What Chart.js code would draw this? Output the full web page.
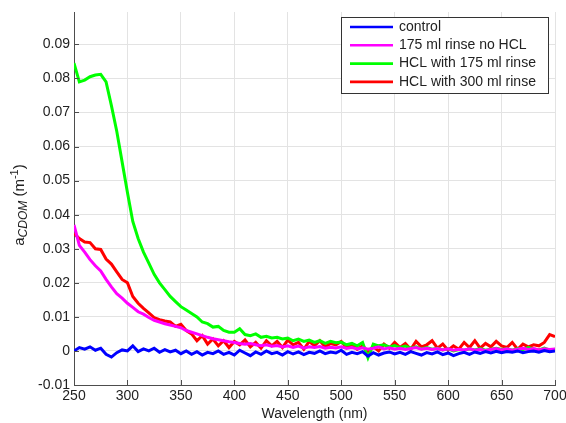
<!DOCTYPE html>
<html>
<head>
<meta charset="utf-8">
<script src="https://cdn.jsdelivr.net/npm/chart.js@4"></script>
<style>
  html, body { margin: 0; padding: 0; background: #fff; }
  #wrap { width: 566px; height: 423px; }
</style>
</head>
<body>
<div id="wrap"><canvas id="cdomChart" width="566" height="423"></canvas></div>
<script>
// longitudes de onda (nm), cada 5 nm
const wavelengths = [];
for (let w = 250; w <= 700; w += 5) wavelengths.push(w);

const yTicks = [-0.01, 0, 0.01, 0.02, 0.03, 0.04, 0.05, 0.06, 0.07, 0.08, 0.09];
const xTicks = [250, 300, 350, 400, 450, 500, 550, 600, 650, 700];
const labels = ['control', '175 ml rinse no HCL', 'HCL with 175 ml rinse', 'HCL with 300 ml rinse'];

const control = [
  0.0000, 0.0010, 0.0005, 0.0012, 0.0002, 0.0008, -0.0010, -0.0018, -0.0005, 0.0003,
  0.0000, 0.0015, -0.0002, 0.0006, 0.0000, 0.0008, -0.0004, 0.0004, -0.0003, 0.0002,
  -0.0008, 0.0000, -0.0010, -0.0002, -0.0012, -0.0004, -0.0008, 0.0000, -0.0010, -0.0004,
  -0.0012, 0.0002, -0.0006, -0.0014, -0.0003, -0.0010, 0.0000, -0.0008, -0.0004, -0.0012,
  -0.0002, -0.0009, -0.0003, -0.0011, -0.0004, -0.0007, 0.0000, -0.0008, -0.0003, -0.0006,
  0.0002, -0.0010, -0.0004, -0.0008, -0.0002, -0.0015, -0.0005, -0.0012, -0.0006, -0.0003,
  -0.0009, -0.0004, -0.0010, -0.0002, -0.0007, -0.0012, -0.0005, -0.0009, -0.0003, -0.0011,
  -0.0006, -0.0014, -0.0008, -0.0004, -0.0010, -0.0003, -0.0007, -0.0002, -0.0006, -0.0001,
  -0.0005, -0.0002, -0.0004, 0.0000, -0.0005, -0.0002, 0.0000, -0.0004, 0.0001, -0.0002,
  0.0000
];

const rinseNoHcl = [
  0.0370, 0.0310, 0.0290, 0.0268, 0.0250, 0.0235, 0.0210, 0.0188, 0.0168, 0.0155,
  0.0140, 0.0128, 0.0115, 0.0108, 0.0098, 0.0090, 0.0085, 0.0080, 0.0076, 0.0072,
  0.0068, 0.0060, 0.0055, 0.0050, 0.0045, 0.0040, 0.0036, 0.0033, 0.0030, 0.0027,
  0.0025, 0.0022, 0.0020, 0.0022, 0.0018, 0.0015, 0.0018, 0.0014, 0.0016, 0.0012,
  0.0015, 0.0010, 0.0014, 0.0008, 0.0012, 0.0010, 0.0013, 0.0008, 0.0011, 0.0009,
  0.0012, 0.0007, 0.0010, 0.0006, 0.0009, 0.0005, 0.0008, 0.0012, 0.0006, 0.0009,
  0.0005, 0.0008, 0.0004, 0.0007, 0.0010, 0.0005, 0.0008, 0.0004, 0.0007, 0.0003,
  0.0006, 0.0002, 0.0005, 0.0003, 0.0006, 0.0002, 0.0005, 0.0001, 0.0004, 0.0007,
  0.0003, 0.0006, 0.0002, 0.0005, 0.0008, 0.0004, 0.0007, 0.0003, 0.0006, 0.0004,
  0.0006
];

const hcl175 = [
  0.0845, 0.0790, 0.0795, 0.0805, 0.0810, 0.0812, 0.0790, 0.0720, 0.0645, 0.0555,
  0.0465, 0.0380, 0.0330, 0.0290, 0.0258, 0.0225, 0.0200, 0.0180, 0.0160, 0.0145,
  0.0130, 0.0120, 0.0110, 0.0100, 0.0085, 0.0080, 0.0070, 0.0072, 0.0060, 0.0055,
  0.0055, 0.0065, 0.0048, 0.0045, 0.0050, 0.0040, 0.0043, 0.0038, 0.0040, 0.0035,
  0.0038, 0.0030, 0.0035, 0.0028, 0.0032, 0.0025, 0.0030, 0.0022, 0.0028, 0.0024,
  0.0026, 0.0018, 0.0022, 0.0015, 0.0025, -0.0020, 0.0020, 0.0015, 0.0018, 0.0012,
  0.0016, 0.0010, 0.0014, 0.0008, 0.0012, 0.0006, 0.0010, 0.0005, 0.0008, 0.0003,
  0.0006, 0.0000, 0.0004, 0.0002, 0.0006, 0.0003, 0.0007, 0.0002, 0.0005, 0.0008,
  0.0004, 0.0006, 0.0002, 0.0007, 0.0004, 0.0010, 0.0006, 0.0003, 0.0008, 0.0002,
  0.0005
];

const hcl300 = [
  0.0345, 0.0330, 0.0320, 0.0318, 0.0300, 0.0298, 0.0270, 0.0255, 0.0232, 0.0210,
  0.0200, 0.0160, 0.0140, 0.0125, 0.0112, 0.0098, 0.0092, 0.0088, 0.0085, 0.0072,
  0.0078, 0.0060, 0.0050, 0.0030, 0.0045, 0.0020, 0.0035, 0.0015, 0.0030, 0.0010,
  0.0028, 0.0018, 0.0032, 0.0012, 0.0025, 0.0008, 0.0030, 0.0015, 0.0028, 0.0010,
  0.0032, 0.0018, 0.0025, 0.0005, 0.0028, 0.0015, 0.0030, 0.0012, 0.0022, 0.0018,
  0.0028, 0.0010, 0.0020, 0.0005, 0.0015, -0.0002, 0.0012, 0.0000, 0.0020, 0.0008,
  0.0025, 0.0010, 0.0022, 0.0005, 0.0028, 0.0012, 0.0018, 0.0030, 0.0008, 0.0020,
  0.0002, 0.0015, 0.0005, 0.0025, 0.0010, 0.0030, 0.0008, 0.0022, 0.0012, 0.0028,
  0.0015, 0.0010, 0.0025, 0.0005, 0.0020, 0.0012, 0.0018, 0.0015, 0.0025, 0.0048,
  0.0042
];

const colors = ['#0000ff', '#ff00ff', '#00ff00', '#ff0000'];
const series = [control, rinseNoHcl, hcl175, hcl300];

const FONT = 'Liberation Sans, Arial, sans-serif';

const datasets = series.map((vals, i) => ({
  label: labels[i],
  data: vals.map((v, j) => ({ x: wavelengths[j], y: v })),
  borderColor: colors[i],
  borderWidth: 3,
  pointRadius: 0,
  tension: 0,
  fill: false
}));

// ticks hacia dentro, título del eje Y y leyenda con marco
const extras = {
  id: 'extras',
  afterDraw(chart) {
    const c = chart.ctx;
    const a = chart.chartArea;
    const xs = chart.scales.x, ys = chart.scales.y;
    c.save();
    c.strokeStyle = '#4d4d4d';
    c.lineWidth = 1;
    xTicks.forEach(t => {
      const px = Math.round(xs.getPixelForValue(t)) + 0.5;
      c.beginPath(); c.moveTo(px, a.bottom); c.lineTo(px, a.bottom - 5); c.stroke();
    });
    yTicks.forEach(t => {
      const py = Math.round(ys.getPixelForValue(t)) + 0.5;
      c.beginPath(); c.moveTo(a.left, py); c.lineTo(a.left + 5, py); c.stroke();
    });

    // título eje Y: a_CDOM (m^-1)
    c.translate(20, 205);
    c.rotate(-Math.PI / 2);
    c.fillStyle = '#222';
    c.textBaseline = 'middle';
    const parts = [
      { t: 'a', f: '15px ' + FONT, dy: 0 },
      { t: 'CDOM', f: 'italic 12px ' + FONT, dy: 4 },
      { t: ' (m', f: '15px ' + FONT, dy: 0 },
      { t: '-1', f: '11px ' + FONT, dy: -5 },
      { t: ')', f: '15px ' + FONT, dy: 0 }
    ];
    let total = 0;
    parts.forEach(p => { c.font = p.f; total += c.measureText(p.t).width; });
    let cx = -total / 2;
    parts.forEach(p => {
      c.font = p.f;
      c.textAlign = 'left';
      c.fillText(p.t, cx, p.dy);
      cx += c.measureText(p.t).width;
    });
    c.restore();

    // leyenda
    c.save();
    const lx = 341, ly = 17, lw = 207, lh = 76;
    c.fillStyle = '#fff';
    c.fillRect(lx, ly, lw, lh);
    c.strokeStyle = '#333';
    c.lineWidth = 1;
    c.strokeRect(lx + 0.5, ly + 0.5, lw, lh);
    c.font = '14px ' + FONT;
    c.textBaseline = 'middle';
    c.textAlign = 'left';
    labels.forEach((lab, i) => {
      const yy = ly + 10 + i * 18.3;
      c.strokeStyle = colors[i];
      c.lineWidth = 2.6;
      c.beginPath(); c.moveTo(350, yy); c.lineTo(393, yy); c.stroke();
      c.fillStyle = '#222';
      c.fillText(lab, 399, yy);
    });
    c.restore();
  }
};

const ctx = document.getElementById('cdomChart').getContext('2d');
new Chart(ctx, {
  type: 'line',
  data: { datasets },
  options: {
    responsive: false,
    animation: false,
    layout: { padding: { top: 12, right: 11, left: 0, bottom: 0 } },
    plugins: { legend: { display: false }, tooltip: { enabled: false } },
    scales: {
      x: {
        type: 'linear',
        min: 250,
        max: 700,
        afterBuildTicks: s => { s.ticks = xTicks.map(v => ({ value: v })); },
        afterFit: s => { s.height = 38; s.paddingRight = 0; s.paddingLeft = 0; },
        ticks: { color: '#222', font: { family: FONT, size: 14 }, padding: 3, maxRotation: 0 },
        grid: { color: '#e3e3e3', drawTicks: false },
        border: { color: '#4d4d4d' },
        title: { display: true, text: 'Wavelength (nm)', color: '#222', font: { family: FONT, size: 14 }, padding: { top: 0, bottom: 0 } }
      },
      y: {
        min: -0.01,
        max: 0.0995,
        afterBuildTicks: s => { s.ticks = yTicks.map(v => ({ value: v })); },
        afterFit: s => { s.width = 74; s.paddingTop = 0; s.paddingBottom = 0; },
        ticks: {
          color: '#222',
          font: { family: FONT, size: 14 },
          padding: 4,
          callback: v => String(Number(v.toFixed(2)))
        },
        grid: { color: '#e3e3e3', drawTicks: false },
        border: { color: '#4d4d4d' }
      }
    }
  },
  plugins: [extras]
});
</script>
</body>
</html>
